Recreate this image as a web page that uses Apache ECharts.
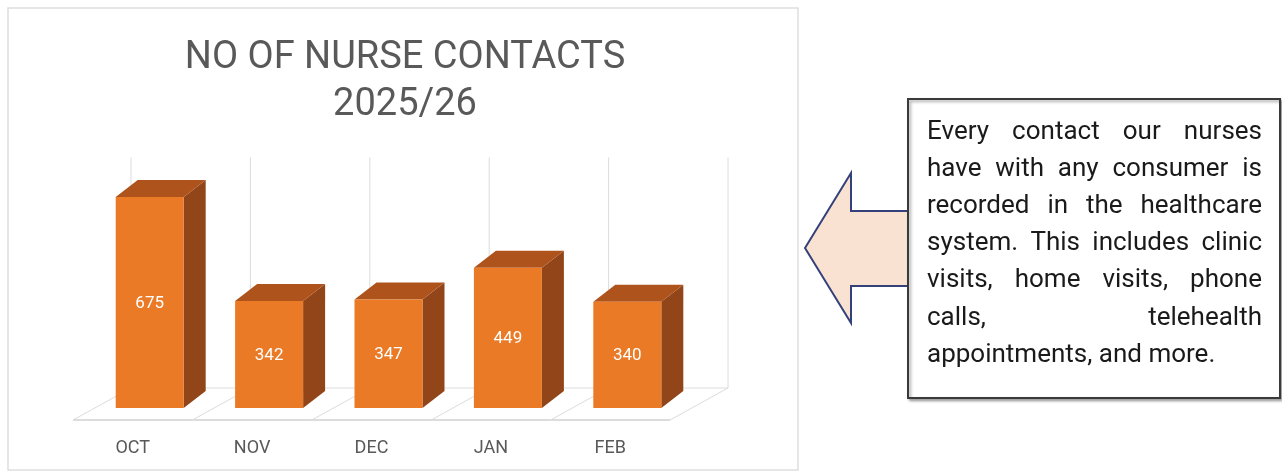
<!DOCTYPE html>
<html>
<head>
<meta charset="utf-8">
<style>
  html, body { margin: 0; padding: 0; background: #fff; }
  #chart { width: 1282px; height: 475px; }
</style>
<script src="https://cdn.jsdelivr.net/npm/echarts@6/dist/echarts.min.js"></script>
</head>
<body>
<div id="chart"></div>
<script>
// data
const months = ["OCT", "NOV", "DEC", "JAN", "FEB"];
const contacts = [675, 342, 347, 449, 340];
const titleLines = ["NO OF NURSE CONTACTS", "2025/26"];
const noteLines = [
  "Every contact our nurses",
  "have with any consumer is",
  "recorded in the healthcare",
  "system. This includes clinic",
  "visits, home visits, phone",
  "calls, telehealth",
  "appointments, and more."
];

const FRONT = "#EA7A25";
const TOP = "#AE531C";
const SIDE = "#93451A";
const FLOOR = "#dcdcdc";

const chart = echarts.init(document.getElementById("chart"));

// 3d-ish bar: front face, top, side + floor / back wall lines
function renderBar(params, api) {
  const i = api.value(0);
  const v = api.value(1);
  const base = api.coord([i, 0]);
  const topPt = api.coord([i, v]);
  const wallTop = api.coord([i, 840]);
  const band = api.size([1, 0])[0];
  const h = base[1] - topPt[1];

  const floorDx = 58, floorDy = -32;
  const fl = base[0] - band / 2;
  const fr = base[0] + band / 2;
  const fy = base[1];

  const L = base[0] - 17, R = base[0] + 51;
  const B = fy - 12, T = B - h;
  const dx = 22, dy = -17;

  const children = [
    { type: "line", shape: { x1: fl, y1: fy, x2: fr, y2: fy }, style: { stroke: FLOOR, lineWidth: 2 } },
    { type: "line", shape: { x1: fl, y1: fy, x2: fl + floorDx, y2: fy + floorDy }, style: { stroke: FLOOR, lineWidth: 1 } },
    { type: "line", shape: { x1: fl + floorDx, y1: fy + floorDy, x2: fr + floorDx, y2: fy + floorDy }, style: { stroke: FLOOR, lineWidth: 1 } },
    { type: "line", shape: { x1: fl + floorDx, y1: fy + floorDy, x2: fl + floorDx, y2: wallTop[1] }, style: { stroke: FLOOR, lineWidth: 1 } }
  ];
  if (params.dataIndex === months.length - 1) {
    children.push(
      { type: "line", shape: { x1: fr, y1: fy, x2: fr + floorDx, y2: fy + floorDy }, style: { stroke: FLOOR, lineWidth: 1 } },
      { type: "line", shape: { x1: fr + floorDx, y1: fy + floorDy, x2: fr + floorDx, y2: wallTop[1] }, style: { stroke: FLOOR, lineWidth: 1 } }
    );
  }
  children.push(
    { type: "polygon", shape: { points: [[R, T], [R + dx, T + dy], [R + dx, B + dy], [R, B]] }, style: { fill: SIDE } },
    { type: "polygon", shape: { points: [[L, T], [R, T], [R + dx, T + dy], [L + dx, T + dy]] }, style: { fill: TOP } },
    { type: "rect", shape: { x: L, y: T, width: R - L, height: h }, style: { fill: FRONT } },
    {
      type: "text",
      style: {
        text: String(v), x: (L + R) / 2, y: T + h / 2 + 1,
        align: "center", verticalAlign: "middle",
        fill: "#fff", font: '17px "Roboto"'
      }
    }
  );
  return { type: "group", children };
}

// justified note text, one word at a time
const NOTE_FONT = '26px "Roboto"';
const measure = document.createElement("canvas").getContext("2d");
measure.font = NOTE_FONT;
const noteLeft = 927, noteRight = 1262;
const noteText = [];
noteLines.forEach((line, k) => {
  const y = 132 + 37.2 * k;
  const words = line.split(" ");
  if (k === noteLines.length - 1 || words.length < 2) {
    noteText.push({ type: "text", z: 10, style: { text: line, x: noteLeft, y, verticalAlign: "middle", fill: "#1a1a1a", font: NOTE_FONT } });
    return;
  }
  const total = words.reduce((s, w) => s + measure.measureText(w).width, 0);
  const gap = (noteRight - noteLeft - total) / (words.length - 1);
  let x = noteLeft;
  words.forEach((w) => {
    noteText.push({ type: "text", z: 10, style: { text: w, x, y, verticalAlign: "middle", fill: "#1a1a1a", font: NOTE_FONT } });
    x += measure.measureText(w).width + gap;
  });
});

chart.setOption({
  animation: false,
  title: {
    text: titleLines.join("\n"),
    left: 400,
    top: 30,
    textAlign: "center",
    textStyle: {
      color: "#595959",
      fontFamily: "Roboto",
      fontWeight: "normal",
      fontSize: 38,
      lineHeight: 47
    }
  },
  grid: { left: 73, right: 612, bottom: 55, top: 157.4 },
  xAxis: {
    type: "category",
    data: months,
    axisLine: { show: false },
    axisTick: { show: false },
    axisLabel: { color: "#595959", fontSize: 18, fontFamily: "Roboto", margin: 19 }
  },
  yAxis: {
    type: "value",
    min: 0,
    max: 840,
    show: false,
    splitLine: { show: false }
  },
  graphic: {
    elements: [
      {
        type: "rect", z: -10,
        shape: { x: 8, y: 8, width: 790, height: 462 },
        style: { fill: "#fff", stroke: "#dedede", lineWidth: 1.5 }
      },
      {
        type: "polygon", z: 5,
        shape: { points: [[805, 248], [851, 173], [851, 211], [912, 211], [912, 286], [851, 286], [851, 323]] },
        style: { fill: "#FAE2D2", stroke: "#34407A", lineWidth: 2 }
      },
      {
        type: "rect", z: 6,
        shape: { x: 908, y: 99, width: 372, height: 299 },
        style: {
          fill: "#fff", stroke: "#3a3a3a", lineWidth: 2,
          shadowBlur: 3, shadowOffsetX: 2, shadowOffsetY: 2, shadowColor: "rgba(0,0,0,0.35)"
        }
      },
      ...noteText
    ]
  },
  series: [
    {
      type: "custom",
      renderItem: renderBar,
      data: contacts.map((v, i) => [i, v]),
      z: 2
    }
  ]
});
</script>
</body>
</html>
